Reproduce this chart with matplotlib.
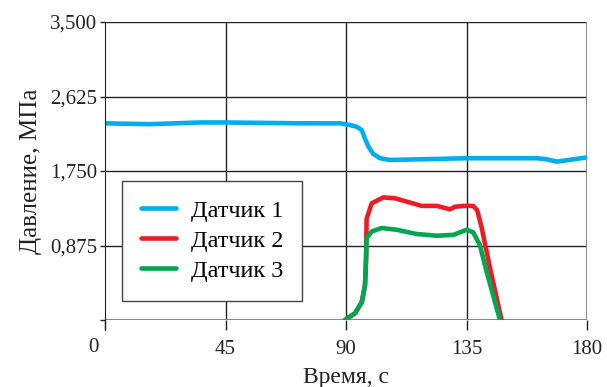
import matplotlib.pyplot as plt

plt.rcParams['font.family'] = ['Liberation Serif', 'DejaVu Serif']

# Датчик 1
t1 = [0, 16.8, 35.5, 44.8, 72.8, 87.8, 91.5, 94.0, 95.9, 97.1, 98.3, 100.2, 102.7, 106.4,
      121.4, 135, 148.6, 161, 164.5, 168.8, 180]
p1 = [2.31, 2.30, 2.32, 2.32, 2.31, 2.31, 2.29, 2.27, 2.23, 2.13, 2.04, 1.95, 1.90, 1.88,
      1.89, 1.90, 1.90, 1.90, 1.89, 1.86, 1.91]

# Датчик 2
t2 = [89.6, 93.4, 95.9, 97.1, 97.5, 97.7, 99.6, 103.9, 108.3, 112.7, 118.3, 123.9, 128.8,
      130.7, 133.8, 137.5, 139.0, 140.7, 143.8, 148.1]
p2 = [0, 0.08, 0.21, 0.41, 0.72, 1.19, 1.37, 1.44, 1.43, 1.39, 1.34, 1.34, 1.30,
      1.33, 1.34, 1.34, 1.29, 1.08, 0.61, 0]

# Датчик 3
t3 = [89.6, 93.4, 95.9, 97.1, 97.5, 97.7, 99.6, 103.3, 108.9, 116.4, 123.9, 130.1,
      132.6, 135.1, 137.5, 140.0, 142.5, 147.5]
p3 = [0, 0.08, 0.21, 0.41, 0.72, 0.96, 1.04, 1.08, 1.06, 1.01, 0.99, 1.00,
      1.03, 1.06, 1.03, 0.88, 0.57, 0]

xticks = [0, 45, 90, 135, 180]
yticks = [0, 0.875, 1.75, 2.625, 3.5]
ylabels = ['', '0,875', '1,750', '2,625', '3,500']

fig = plt.figure(figsize=(6.07, 3.87), dpi=100)
ax = fig.add_axes([105/607, 67/387, 482/607, 298/387])

style = dict(lw=3.3, solid_capstyle='round', solid_joinstyle='round')
ax.plot(t1, p1, color='#00AEEF', label='Датчик 1', **style)
ax.plot(t2, p2, color='#ED1C24', label='Датчик 2', **style)
ax.plot(t3, p3, color='#00A651', label='Датчик 3', **style)

ax.set_xlim(0, 180)
ax.set_ylim(0, 3.5)
ax.set_xticks(xticks)
ax.set_xticklabels([''] + [str(v) for v in xticks[1:]])
ax.set_yticks(yticks)
ax.set_yticklabels(ylabels)
ax.tick_params(axis='x', direction='out', length=7.5, width=1, color='#222222',
               labelsize=15, pad=7, labelcolor='#222222')
ax.tick_params(axis='y', direction='out', length=3.6, width=1, color='#222222',
               labelsize=15, pad=2, labelcolor='#222222')
ax.text(-4.5, -0.32, '0', ha='center', va='center', fontsize=15, color='#222222')

for s in ['top', 'right', 'bottom']:
    ax.spines[s].set_visible(False)
ax.spines['left'].set_color('#222222')
ax.spines['left'].set_bounds(-0.12, 3.5)
ax.spines['left'].set_zorder(3)

for v in [45, 90, 135]:
    ax.axvline(v, color='#222222', lw=1, zorder=0.5)
for v in [0.875, 1.75, 2.625, 3.5]:
    ax.axhline(v, color='#222222', lw=1, zorder=0.5)
ax.axhline(0, color='#888888', lw=1.5, zorder=0.5)
ax.axvline(180, color='#888888', lw=1.5, zorder=0.5)

ax.set_xlabel('Время, с', fontsize=17, color='#222222', labelpad=6)
ax.set_ylabel('Давление, МПа', fontsize=18, color='#222222', labelpad=6)

leg = ax.legend(loc='lower left', bbox_to_anchor=(0.035, 0.064), fontsize=17.5,
                frameon=True, fancybox=False, edgecolor='#444444', framealpha=1,
                handlelength=1.45, handletextpad=0.6, borderpad=0.78, labelspacing=0.33,
                borderaxespad=0)
leg.get_frame().set_linewidth(1)
leg.set_zorder(5)

fig.savefig('out.png', dpi=100)
